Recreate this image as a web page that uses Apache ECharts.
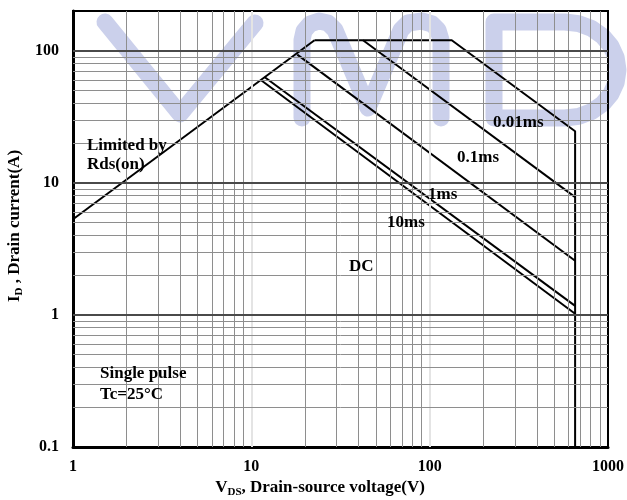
<!DOCTYPE html>
<html>
<head>
<meta charset="utf-8">
<title>Safe operating area</title>
<script src="https://cdn.jsdelivr.net/npm/echarts@6/dist/echarts.min.js"></script>
<style>
  html, body { margin: 0; padding: 0; background: #fff; }
  #chart { width: 627px; height: 500px; }
</style>
</head>
<body>
<div id="chart"></div>
<script>
// tick labels and grid positions (log scale)
const xTickLabels = ['1', '10', '100', '1000'];
const yTickLabels = ['0.1', '1', '10', '100'];
const xMinorGrid = [2, 3, 4, 5, 6, 7, 8, 9, 20, 30, 40, 50, 60, 70, 80, 90, 200, 300, 400, 500, 600, 700, 800, 900];
const xMajorGrid = [10, 100];
const yMinorGrid = [0.2, 0.3, 0.4, 0.5, 0.6, 0.7, 0.8, 0.9, 2, 3, 4, 5, 6, 7, 8, 9, 20, 30, 40, 50, 60, 70, 80, 90];
const yMajorGrid = [1, 10, 100];

// curves, [V_DS, I_D]
const rdsLimit = [[1, 5.3], [22.6, 120]];
const pulse001ms = [[22.6, 120], [133, 120], [654, 24.6], [654, 0.1]];
const pulse01ms = [[42.3, 120], [654, 7.8]];
const pulse1ms = [[18.1, 93.5], [654, 2.57]];
const pulse10ms = [[11.9, 63], [654, 1.17]];
const dcLine = [[11.3, 60], [654, 1.02]];

(function() {
  const SERIF = '"Liberation Serif", "DejaVu Serif", serif';
  const fmt = v => String(parseFloat(Number(v).toPrecision(6)));

  function curve(name, data) {
    return {
      name: name,
      type: 'line',
      data: data,
      symbol: 'none',
      z: 3,
      lineStyle: { color: '#000', width: 2 },
      animation: false
    };
  }

  function gridItems() {
    const minor = { color: '#8e8e8e', width: 1, type: 'solid' };
    const items = [];
    xMinorGrid.forEach(v => items.push({ xAxis: v, lineStyle: minor }));
    xMajorGrid.forEach(v => items.push({ xAxis: v, lineStyle: { color: '#e4e4e4', width: 2, type: 'solid' } }));
    yMinorGrid.forEach(v => items.push({ yAxis: v, lineStyle: minor }));
    yMajorGrid.forEach(v => items.push({ yAxis: v, lineStyle: { color: '#4a4a4a', width: 2, type: 'solid' } }));
    return items;
  }

  function label(text, x, y) {
    return {
      type: 'text', x: x, y: y, z: 100,
      style: {
        text: text, fill: '#000',
        font: 'bold 17px ' + SERIF,
        textAlign: 'left', textVerticalAlign: 'middle'
      }
    };
  }

  // background "VMD" watermark
  const mark = '#cbd0eb';
  const stroke = { stroke: mark, lineWidth: 17, lineCap: 'round', lineJoin: 'round', fill: null };
  const watermark = [
    { type: 'polyline', z: -10, shape: { points: [[105, 22], [180, 114], [255, 23]] }, style: stroke },
    { type: 'polyline', z: -10,
      shape: { points: [[302, 118], [302, 40], [304, 31], [310, 24], [319, 21], [328, 23], [335, 30],
        [368, 108], [401, 30], [408, 23], [422, 21], [432, 24], [438, 30], [441, 40], [441, 118]] },
      style: stroke },
    { type: 'polygon', z: -10,
      shape: { points: [[494, 22], [494, 118], [565, 118], [578.7, 116.4], [591.5, 111.6], [602.5, 103.9],
        [610.9, 94], [616.2, 82.4], [618, 70], [616.2, 57.6], [610.9, 46], [602.5, 36.1], [591.5, 28.4],
        [578.7, 23.6], [565, 22]] },
      style: stroke }
  ];

  const titleRich = {
    a: { fontFamily: SERIF, fontWeight: 'bold', fontSize: 17, lineHeight: 20, verticalAlign: 'middle', fill: '#000' },
    b: { fontFamily: SERIF, fontWeight: 'bold', fontSize: 11, lineHeight: 11, verticalAlign: 'bottom', fill: '#000' }
  };

  const option = {
    backgroundColor: '#fff',
    animation: false,
    grid: {
      left: 73, right: 19, top: 11, bottom: 53,
      show: true, borderColor: '#000', borderWidth: 2, backgroundColor: 'transparent'
    },
    xAxis: {
      type: 'log', logBase: 10, min: 1, max: 1000,
      axisLine: { show: true, lineStyle: { color: '#000', width: 3 } },
      axisTick: { show: false },
      splitLine: { show: false },
      axisLabel: {
        margin: 12, color: '#000', fontFamily: SERIF, fontWeight: 'bold', fontSize: 16,
        formatter: v => xTickLabels.includes(fmt(v)) ? fmt(v) : ''
      }
    },
    yAxis: {
      type: 'log', logBase: 10, min: 0.1, max: 200,
      axisLine: { show: true, lineStyle: { color: '#000', width: 3 } },
      axisTick: { show: false },
      splitLine: { show: false },
      axisLabel: {
        margin: 14, color: '#000', fontFamily: SERIF, fontWeight: 'bold', fontSize: 16,
        formatter: v => yTickLabels.includes(fmt(v)) ? fmt(v) : ''
      }
    },
    graphic: watermark.concat([
      label('Limited by', 87, 146),
      label('Rds(on)', 87, 165),
      label('0.01ms', 493, 123),
      label('0.1ms', 457, 158),
      label('1ms', 428, 195),
      label('10ms', 387, 223),
      label('DC', 349, 267),
      label('Single pulse', 100, 374),
      label('Tc=25°C', 100, 395),
      {
        type: 'text', x: 320, y: 488, z: 100,
        style: {
          text: '{a|V}{b|DS}{a|, Drain-source voltage(V)}', rich: titleRich,
          textAlign: 'center', textVerticalAlign: 'middle'
        }
      },
      {
        type: 'text', x: 15, y: 226, z: 100, rotation: Math.PI / 2,
        style: {
          text: '{a|I}{b|D}{a| , Drain current(A)}', rich: titleRich,
          textAlign: 'center', textVerticalAlign: 'middle'
        }
      }
    ]),
    series: [
      {
        name: 'grid', type: 'line', data: [], z: 1, silent: true,
        markLine: {
          silent: true, animation: false, symbol: ['none', 'none'],
          label: { show: false },
          emphasis: { disabled: true },
          data: gridItems()
        }
      },
      curve('Rds(on)', rdsLimit),
      curve('0.01ms', pulse001ms),
      curve('0.1ms', pulse01ms),
      curve('1ms', pulse1ms),
      curve('10ms', pulse10ms),
      curve('DC', dcLine)
    ]
  };

  const chart = echarts.init(document.getElementById('chart'));
  chart.setOption(option);
  window.addEventListener('resize', () => chart.resize());
})();
</script>
</body>
</html>
